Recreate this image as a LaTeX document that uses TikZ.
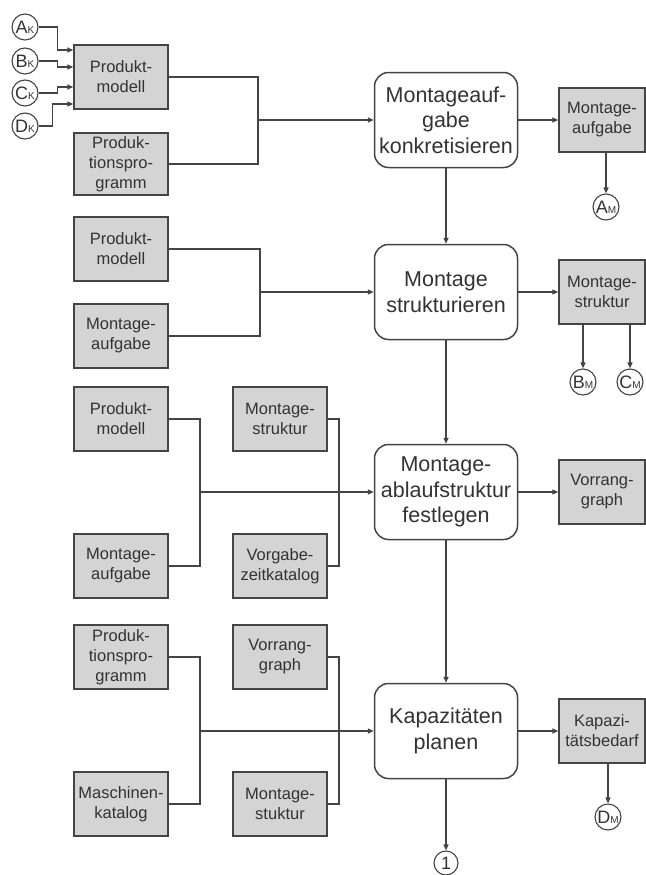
\documentclass[tikz,border=0pt]{standalone}
\usepackage{fontspec}
\setmainfont{Liberation Sans}
\usetikzlibrary{arrows.meta}
\definecolor{boxgray}{HTML}{D4D4D4}
\definecolor{linegray}{HTML}{444444}
\definecolor{textgray}{HTML}{333333}
\newcommand{\idx}[2]{#1{\fontsize{10bp}{10bp}\selectfont#2}}

\begin{document}
\begin{tikzpicture}[x=1bp,y=-1bp,
  data/.style={draw=linegray, fill=boxgray, line width=1.4bp, minimum width=94bp, minimum height=64bp, inner sep=0pt, align=center, text=textgray, font=\fontsize{16.5bp}{20bp}\selectfont},
  task/.style={draw=linegray, fill=white, rounded corners=14bp, line width=1.5bp, minimum width=143bp, minimum height=95bp, inner sep=0pt, align=center, text=textgray, font=\fontsize{21.5bp}{25.5bp}\selectfont},
  ref/.style={draw=linegray, circle, fill=white, line width=1.1bp, minimum size=26bp, inner sep=0pt, text=textgray, font=\fontsize{18bp}{18bp}\selectfont},
  flow/.style={draw=linegray, line width=1.4bp},
  >={Triangle[length=6bp,width=5bp]}]
\fill[white] (0,0) rectangle (646,875);
\useasboundingbox (0,0) rectangle (646,875);

\node[ref] (ak) at (25,27) {\idx{A}{K}};
\node[ref] (bk) at (25,61) {\idx{B}{K}};
\node[ref] (ck) at (25,93) {\idx{C}{K}};
\node[ref] (dk) at (25,126) {\idx{D}{K}};
\node[data] (pm1) at (121,77) {Produkt-\\modell};
\node[data, minimum height=62bp] (pp1) at (121,164) {Produk-\\tionspro-\\gramm};
\node[task] (mp1) at (446,120) {Montageauf-\\gabe\\konkretisieren};
\node[data, minimum width=86bp] (ma1) at (602,120) {Montage-\\aufgabe};
\node[ref] (am) at (606,207) {\idx{A}{M}};

\node[data] (pm2) at (121,249) {Produkt-\\modell};
\node[data] (pa2) at (121,336) {Montage-\\aufgabe};
\node[task] (mp2) at (446,292) {Montage\\strukturieren};
\node[data, minimum width=86bp] (ms2) at (602,292) {Montage-\\struktur};
\node[ref] (bm) at (583,382) {\idx{B}{M}};
\node[ref] (cm) at (630,382) {\idx{C}{M}};

\node[data] (pm3) at (121,419) {Produkt-\\modell};
\node[data] (ms3) at (280,419) {Montage-\\struktur};
\node[data] (pa3) at (121,566) {Montage-\\aufgabe};
\node[data] (vz3) at (280,566) {Vorgabe-\\zeitkatalog};
\node[task] (mp3) at (446,492) {Montage-\\ablaufstruktur\\festlegen};
\node[data, minimum width=86bp] (vg3) at (602,492) {Vorrang-\\graph};

\node[data] (pp4) at (121,657) {Produk-\\tionspro-\\gramm};
\node[data] (vg4) at (280,657) {Vorrang-\\graph};
\node[data] (mk4) at (121,804) {Maschinen-\\katalog};
\node[data] (mst4) at (280,804) {Montage-\\stuktur};
\node[task] (mp4) at (446,731) {Kapazitäten\\planen};
\node[data, minimum width=86bp] (kb4) at (602,731) {Kapazi-\\tätsbedarf};
\node[ref] (dm) at (608,817) {\idx{D}{M}};
\node[ref, minimum size=24bp] (one) at (446,863) {1};

\coordinate (j1) at (258,120);
\coordinate (j2) at (260,292);
\coordinate (j3) at (200,492);
\coordinate (k3) at (339,492);
\coordinate (j4) at (200,731);
\coordinate (k4) at (339,731);

\path[flow,->] (ak.east) -- ++(19,0) |- ([yshift=27bp]pm1.west);
\path[flow,->] (bk.east) -- ++(19,0) |- ([yshift=10bp]pm1.west);
\path[flow,->] (ck.east) -- ++(19,0) |- ([yshift=-10bp]pm1.west);
\path[flow,->] (dk.east) -- ++(14,0) |- ([yshift=-27bp]pm1.west);
\path[flow] (pm1.east) -| (j1) |- (pp1.east);
\path[flow,->] (j1) -- (mp1.west);
\path[flow,->] (mp1.east) -- (ma1.west);
\path[flow,->] (ma1.south -| am) -- (am);
\path[flow,->] (mp1) -- (mp2);

\path[flow] (pm2.east) -| (j2) |- (pa2.east);
\path[flow,->] (j2) -- (mp2.west);
\path[flow,->] (mp2.east) -- (ms2.west);
\path[flow,->] (ms2.south -| bm) -- (bm);
\path[flow,->] (ms2.south -| cm) -- (cm);
\path[flow,->] (mp2) -- (mp3);

\path[flow] (pm3.east) -| (j3) |- (pa3.east);
\path[flow] (ms3.east) -| (k3) |- (vz3.east);
\path[flow,->] (j3) -- (mp3.west);
\path[flow,->] (mp3.east) -- (vg3.west);
\path[flow,->] (mp3) -- (mp4);

\path[flow] (pp4.east) -| (j4) |- (mk4.east);
\path[flow] (vg4.east) -| (k4) |- (mst4.east);
\path[flow,->] (j4) -- (mp4.west);
\path[flow,->] (mp4.east) -- (kb4.west);
\path[flow,->] (kb4.south -| dm) -- (dm);
\path[flow,->] (mp4) -- (one);
\end{tikzpicture}
\end{document}
